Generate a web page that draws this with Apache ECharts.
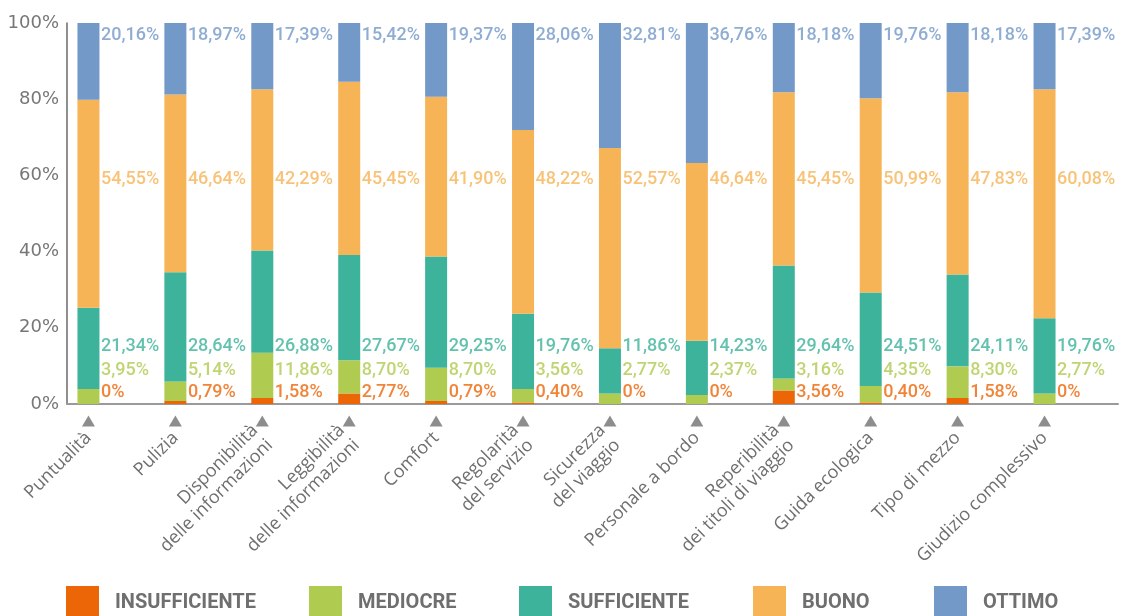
<!DOCTYPE html>
<html>
<head>
<meta charset="utf-8">
<script src="https://cdn.jsdelivr.net/npm/echarts@6/dist/echarts.min.js"></script>
<style>
  html, body { margin: 0; padding: 0; background: #fff; }
  #chart { width: 1131px; height: 616px; }
</style>
</head>
<body>
<div id="chart"></div>
<script>
const categories = [
  'Puntualità', 'Pulizia', 'Disponibilità\ndelle informazioni', 'Leggibilità\ndelle informazioni',
  'Comfort', 'Regolarità\ndel servizio', 'Sicurezza\ndel viaggio', 'Personale a bordo',
  'Reperibilità\ndei titoli di viaggio', 'Guida ecologica', 'Tipo di mezzo', 'Giudizio complessivo'
];
const seriesNames = ['INSUFFICIENTE', 'MEDIOCRE', 'SUFFICIENTE', 'BUONO', 'OTTIMO'];

const insufficiente = [0, 0.79, 1.58, 2.77, 0.79, 0.40, 0, 0, 3.56, 0.40, 1.58, 0];
const mediocre = [3.95, 5.14, 11.86, 8.70, 8.70, 3.56, 2.77, 2.37, 3.16, 4.35, 8.30, 2.77];
const sufficiente = [21.34, 28.64, 26.88, 27.67, 29.25, 19.76, 11.86, 14.23, 29.64, 24.51, 24.11, 19.76];
const buono = [54.55, 46.64, 42.29, 45.45, 41.90, 48.22, 52.57, 46.64, 45.45, 50.99, 47.83, 60.08];
const ottimo = [20.16, 18.97, 17.39, 15.42, 19.37, 28.06, 32.81, 36.76, 18.18, 19.76, 18.18, 17.39];

const yTicks = [0, 20, 40, 60, 80, 100];

// layout / style
const values = [insufficiente, mediocre, sufficiente, buono, ottimo];
const colors = ['#ec6608', '#afcb50', '#3cb39a', '#f6b456', '#7399c8'];
const labelRows = [3.0, 8.7, 15.0, 58.8, 96.8]; // fixed label rows, as in the original
const legendLeft = [66, 309, 519, 753, 934];
const grey = '#6f6f6f';

function pct(v) {
  return v === 0 ? '0%' : v.toFixed(2).replace('.', ',') + '%';
}

const series = [];
values.forEach((arr, k) => {
  series.push({
    name: seriesNames[k],
    type: 'bar',
    stack: 'tot',
    xAxisIndex: 1,
    yAxisIndex: 1,
    barWidth: 22,
    itemStyle: { color: colors[k] },
    data: arr
  });
});
values.forEach((arr, k) => {
  series.push({
    name: seriesNames[k],
    type: 'scatter',
    xAxisIndex: 1,
    yAxisIndex: 1,
    symbolSize: 1,
    itemStyle: { color: 'rgba(0,0,0,0)' },
    silent: true,
    clip: false,
    label: {
      show: true,
      position: 'right',
      distance: 12,
      color: colors[k],
      fontFamily: 'Roboto',
      fontWeight: 500,
      fontSize: 18,
      formatter: p => pct(arr[p.dataIndex])
    },
    data: categories.map((c, i) => [i, labelRows[k]])
  });
});
series.push({
  type: 'scatter',
  xAxisIndex: 1,
  yAxisIndex: 1,
  symbol: 'triangle',
  symbolSize: [13, 11],
  symbolOffset: [0, 17],
  itemStyle: { color: '#707070' },
  silent: true,
  clip: false,
  data: categories.map((c, i) => [i, 0])
});

const option = {
  animation: false,
  grid: [
    { left: 67, right: 13, top: 23, bottom: 212 },
    { left: 45, right: 43, top: 23, bottom: 212 }
  ],
  xAxis: [
    {
      gridIndex: 0, type: 'category', data: categories,
      axisLine: { lineStyle: { color: '#9a9a9a', width: 2 } },
      axisTick: { show: false }, axisLabel: { show: false }
    },
    {
      gridIndex: 1, type: 'category', data: categories,
      axisLine: { show: false }, axisTick: { show: false },
      axisLabel: {
        interval: 0, rotate: 45, margin: 31,
        color: grey, fontFamily: 'Open Sans', fontSize: 18, lineHeight: 21
      }
    }
  ],
  yAxis: [
    {
      gridIndex: 0, type: 'value', min: yTicks[0], max: yTicks[yTicks.length - 1], interval: 20,
      axisLine: { show: true, lineStyle: { color: '#6a6a6a', width: 1.5 } },
      axisTick: { show: false }, splitLine: { show: false },
      axisLabel: {
        formatter: '{value}%', margin: 8, color: '#777',
        fontFamily: 'DejaVu Sans', fontSize: 18, padding: [0, 0, 8, 0]
      }
    },
    { gridIndex: 1, type: 'value', min: 0, max: 100, show: false }
  ],
  legend: seriesNames.map((n, k) => ({
    data: [n],
    left: legendLeft[k],
    top: 586,
    padding: 0,
    icon: 'rect',
    itemWidth: 33,
    itemHeight: 33,
    selectedMode: false,
    textStyle: {
      color: grey, fontFamily: 'Roboto', fontWeight: 'bold', fontSize: 20,
      padding: [5, 0, 0, 11]
    }
  })),
  series: series
};

const chart = echarts.init(document.getElementById('chart'));
chart.setOption(option);
</script>
</body>
</html>
